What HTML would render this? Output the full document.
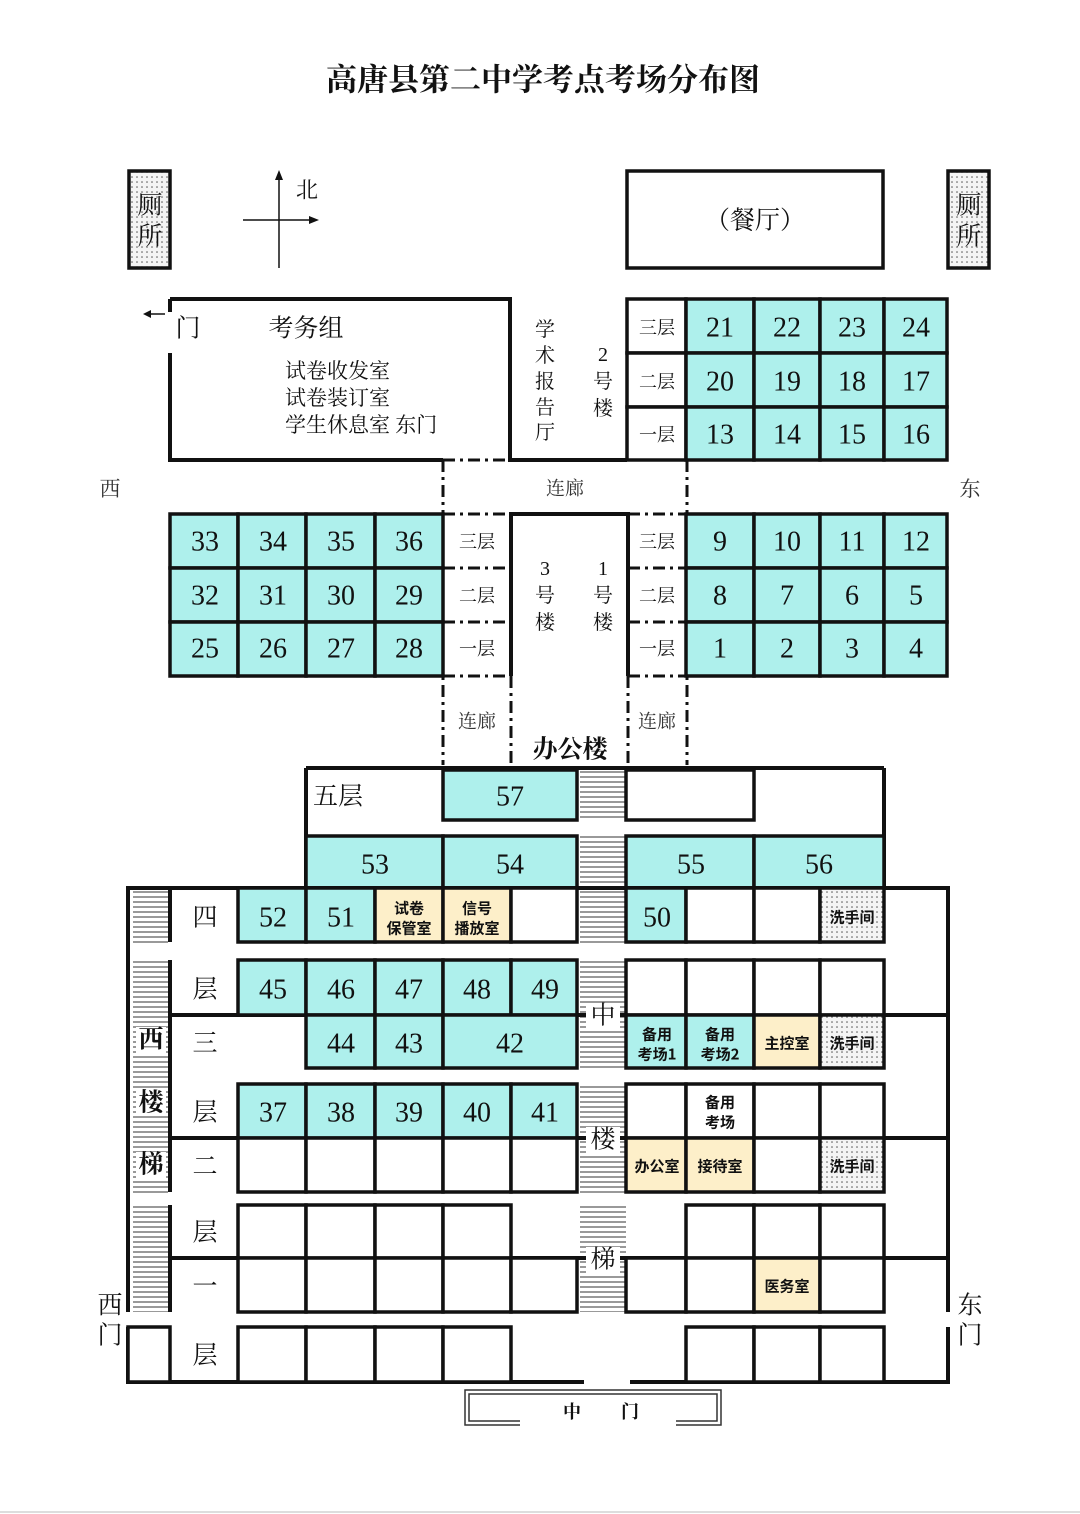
<!DOCTYPE html>
<html><head><meta charset="utf-8"><style>
html,body{margin:0;padding:0;background:#fff;}
svg{display:block;}
text{font-family:"Liberation Serif","Noto Serif CJK SC","Noto Sans CJK SC",serif;fill:#111;}
.n{font-size:28px;text-anchor:middle;dominant-baseline:central;}
.f{font-size:18px;text-anchor:middle;dominant-baseline:central;}
.s{font-size:15px;font-weight:bold;text-anchor:middle;dominant-baseline:central;font-family:"Noto Sans CJK SC",sans-serif;}
.l{font-size:25px;text-anchor:middle;dominant-baseline:central;}
.c{fill:#aef0ec;stroke:#111;stroke-width:3.5;}
.w{fill:#fff;stroke:#111;stroke-width:3.5;}
.b{fill:#fdefc9;stroke:#111;stroke-width:3.5;}
.d{fill:url(#dots);stroke:#111;stroke-width:3.5;}
.k{stroke:#111;stroke-width:4;fill:none;}
.dd{stroke:#111;stroke-width:3;fill:none;stroke-dasharray:12 5 3 5;}
</style></head><body>
<svg width="1080" height="1514" viewBox="0 0 1080 1514" xmlns="http://www.w3.org/2000/svg">
<defs>
<pattern id="dots" width="5" height="5" patternUnits="userSpaceOnUse"><rect width="5" height="5" fill="#f4f4f4"/><circle cx="2" cy="2" r="0.8" fill="#555"/></pattern>
<pattern id="hatch" width="6" height="5" patternUnits="userSpaceOnUse"><rect width="6" height="5" fill="#fff"/><line x1="0" y1="2" x2="6" y2="2" stroke="#777" stroke-width="1.5"/></pattern>
</defs>
<rect width="1080" height="1514" fill="#fff"/>
<line x1="0" y1="1512" x2="1080" y2="1512" stroke="#ddd" stroke-width="2"/>
<text x="543" y="80" style="font-size:31px;font-weight:bold;text-anchor:middle;dominant-baseline:central">高唐县第二中学考点考场分布图</text>

<!-- toilets -->
<rect x="129" y="171" width="41" height="97" class="d"/>
<text x="150" y="206" class="l">厕</text><text x="150" y="237" class="l">所</text>
<rect x="948" y="171" width="41" height="97" class="d"/>
<text x="969" y="206" class="l">厕</text><text x="969" y="237" class="l">所</text>
<!-- compass -->
<line x1="279" y1="176" x2="279" y2="268" stroke="#111" stroke-width="1.5"/>
<polygon points="279,170 275,180 283,180" fill="#111"/>
<line x1="243" y1="220" x2="312" y2="220" stroke="#111" stroke-width="1.5"/>
<polygon points="319,220 309,216 309,224" fill="#111"/>
<text x="307" y="190" class="l" style="font-size:22px">北</text>
<!-- dining -->
<rect x="627" y="171" width="256" height="97" class="w"/>
<text x="755" y="221" class="l">（餐厅）</text>

<!-- exam office block -->
<polyline points="170,353 170,460 443,460" class="k"/>
<polyline points="170,299 510,299 510,460 627,460" class="k"/>
<line x1="170" y1="299" x2="170" y2="312" class="k"/>
<line x1="147" y1="314" x2="165" y2="314" stroke="#111" stroke-width="1.5"/>
<polygon points="143,314 151,310 151,318" fill="#111"/>
<text x="188" y="329" class="l">门</text>
<text x="306" y="329" class="l">考务组</text>
<text x="285" y="371" style="font-size:21px;dominant-baseline:central">试卷收发室</text>
<text x="285" y="398" style="font-size:21px;dominant-baseline:central">试卷装订室</text>
<text x="285" y="425" style="font-size:21px;dominant-baseline:central">学生休息室 东门</text>
<text x="545" y="330" class="f" style="font-size:20px">学</text>
<text x="545" y="356" class="f" style="font-size:20px">术</text>
<text x="545" y="382" class="f" style="font-size:20px">报</text>
<text x="545" y="408" class="f" style="font-size:20px">告</text>
<text x="545" y="433" class="f" style="font-size:20px">厅</text>
<text x="603" y="355" class="f" style="font-size:20px">2</text>
<text x="603" y="382" class="f" style="font-size:20px">号</text>
<text x="603" y="409" class="f" style="font-size:20px">楼</text>

<!-- building 2 -->
<rect x="627" y="299" width="59" height="54" class="w"/><rect x="627" y="353" width="59" height="54" class="w"/><rect x="627" y="407" width="59" height="53" class="w"/>
<rect x="686" y="299" width="68" height="54" class="c"/><rect x="754" y="299" width="66" height="54" class="c"/><rect x="820" y="299" width="64" height="54" class="c"/><rect x="884" y="299" width="63" height="54" class="c"/>
<rect x="686" y="353" width="68" height="54" class="c"/><rect x="754" y="353" width="66" height="54" class="c"/><rect x="820" y="353" width="64" height="54" class="c"/><rect x="884" y="353" width="63" height="54" class="c"/>
<rect x="686" y="407" width="68" height="53" class="c"/><rect x="754" y="407" width="66" height="53" class="c"/><rect x="820" y="407" width="64" height="53" class="c"/><rect x="884" y="407" width="63" height="53" class="c"/>
<text x="657" y="328" class="f">三层</text><text x="657" y="382" class="f">二层</text><text x="657" y="435" class="f">一层</text>
<text x="720" y="328" class="n">21</text><text x="787" y="328" class="n">22</text><text x="852" y="328" class="n">23</text><text x="916" y="328" class="n">24</text>
<text x="720" y="382" class="n">20</text><text x="787" y="382" class="n">19</text><text x="852" y="382" class="n">18</text><text x="916" y="382" class="n">17</text>
<text x="720" y="435" class="n">13</text><text x="787" y="435" class="n">14</text><text x="852" y="435" class="n">15</text><text x="916" y="435" class="n">16</text>

<!-- corridors dash-dot -->
<line x1="443" y1="460" x2="443" y2="765" class="dd"/>
<line x1="687" y1="460" x2="687" y2="765" class="dd"/>
<line x1="443" y1="460" x2="510" y2="460" class="dd"/>
<line x1="627" y1="460" x2="687" y2="460" class="dd"/>
<line x1="511" y1="676" x2="511" y2="765" class="dd"/>
<line x1="628" y1="676" x2="628" y2="765" class="dd"/>
<line x1="443" y1="514" x2="511" y2="514" class="dd"/><line x1="628" y1="514" x2="687" y2="514" class="dd"/>
<line x1="443" y1="568" x2="511" y2="568" class="dd"/><line x1="628" y1="568" x2="687" y2="568" class="dd"/>
<line x1="443" y1="622" x2="511" y2="622" class="dd"/><line x1="628" y1="622" x2="687" y2="622" class="dd"/>
<line x1="443" y1="676" x2="511" y2="676" class="dd"/><line x1="628" y1="676" x2="687" y2="676" class="dd"/>
<polyline points="511,676 511,514 628,514 628,676" class="k"/>
<text x="565" y="489" class="f" style="font-size:19px;fill:#333">连廊</text>
<text x="110" y="489" class="l" style="font-size:21px;fill:#333">西</text>
<text x="970" y="489" class="l" style="font-size:21px;fill:#333">东</text>
<text x="545" y="569" class="f" style="font-size:20px">3</text><text x="545" y="596" class="f" style="font-size:20px">号</text><text x="545" y="623" class="f" style="font-size:20px">楼</text>
<text x="603" y="569" class="f" style="font-size:20px">1</text><text x="603" y="596" class="f" style="font-size:20px">号</text><text x="603" y="623" class="f" style="font-size:20px">楼</text>
<text x="477" y="542" class="f">三层</text><text x="477" y="596" class="f">二层</text><text x="477" y="649" class="f">一层</text>
<text x="657" y="542" class="f">三层</text><text x="657" y="596" class="f">二层</text><text x="657" y="649" class="f">一层</text>
<text x="477" y="722" class="f" style="font-size:19px;fill:#333">连廊</text>
<text x="657" y="722" class="f" style="font-size:19px;fill:#333">连廊</text>
<text x="570" y="750" class="l" style="font-weight:bold">办公楼</text>

<!-- building 3 left grid -->
<rect x="170" y="514" width="68" height="54" class="c"/><rect x="238" y="514" width="68" height="54" class="c"/><rect x="306" y="514" width="69" height="54" class="c"/><rect x="375" y="514" width="68" height="54" class="c"/>
<rect x="170" y="568" width="68" height="54" class="c"/><rect x="238" y="568" width="68" height="54" class="c"/><rect x="306" y="568" width="69" height="54" class="c"/><rect x="375" y="568" width="68" height="54" class="c"/>
<rect x="170" y="622" width="68" height="54" class="c"/><rect x="238" y="622" width="68" height="54" class="c"/><rect x="306" y="622" width="69" height="54" class="c"/><rect x="375" y="622" width="68" height="54" class="c"/>
<text x="205" y="542" class="n">33</text><text x="273" y="542" class="n">34</text><text x="341" y="542" class="n">35</text><text x="409" y="542" class="n">36</text>
<text x="205" y="596" class="n">32</text><text x="273" y="596" class="n">31</text><text x="341" y="596" class="n">30</text><text x="409" y="596" class="n">29</text>
<text x="205" y="649" class="n">25</text><text x="273" y="649" class="n">26</text><text x="341" y="649" class="n">27</text><text x="409" y="649" class="n">28</text>
<!-- building 1 right grid -->
<rect x="686" y="514" width="68" height="54" class="c"/><rect x="754" y="514" width="66" height="54" class="c"/><rect x="820" y="514" width="64" height="54" class="c"/><rect x="884" y="514" width="63" height="54" class="c"/>
<rect x="686" y="568" width="68" height="54" class="c"/><rect x="754" y="568" width="66" height="54" class="c"/><rect x="820" y="568" width="64" height="54" class="c"/><rect x="884" y="568" width="63" height="54" class="c"/>
<rect x="686" y="622" width="68" height="54" class="c"/><rect x="754" y="622" width="66" height="54" class="c"/><rect x="820" y="622" width="64" height="54" class="c"/><rect x="884" y="622" width="63" height="54" class="c"/>
<text x="720" y="542" class="n">9</text><text x="787" y="542" class="n">10</text><text x="852" y="542" class="n">11</text><text x="916" y="542" class="n">12</text>
<text x="720" y="596" class="n">8</text><text x="787" y="596" class="n">7</text><text x="852" y="596" class="n">6</text><text x="916" y="596" class="n">5</text>
<text x="720" y="649" class="n">1</text><text x="787" y="649" class="n">2</text><text x="852" y="649" class="n">3</text><text x="916" y="649" class="n">4</text>

<!-- office building -->
<rect x="580" y="768" width="46" height="544" fill="url(#hatch)"/>
<rect x="578" y="821" width="50" height="14" fill="#fff"/><rect x="578" y="943" width="50" height="16" fill="#fff"/><rect x="578" y="1069" width="50" height="14" fill="#fff"/><rect x="578" y="1193" width="50" height="11" fill="#fff"/>
<rect x="133" y="890" width="35" height="422" fill="url(#hatch)"/>
<rect x="131" y="943" width="40" height="16" fill="#fff"/><rect x="131" y="1193" width="40" height="11" fill="#fff"/>
<line x1="306" y1="768" x2="884" y2="768" class="k"/>
<line x1="306" y1="768" x2="306" y2="888" class="k"/>
<line x1="884" y1="768" x2="884" y2="888" class="k"/>
<text x="338" y="797" class="l">五层</text>
<rect x="443" y="770" width="134" height="50" class="c"/><text x="510" y="797" class="n">57</text>
<rect x="626" y="770" width="128" height="50" class="w"/>
<rect x="306" y="836" width="137" height="52" class="c"/><rect x="443" y="836" width="134" height="52" class="c"/>
<rect x="626" y="836" width="128" height="52" class="c"/><rect x="754" y="836" width="130" height="52" class="c"/>
<text x="375" y="865" class="n">53</text><text x="510" y="865" class="n">54</text><text x="691" y="865" class="n">55</text><text x="819" y="865" class="n">56</text>

<!-- outer walls -->
<polyline points="128,1312 128,888 948,888 948,1312" class="k"/>
<polyline points="128,1327 128,1382 584,1382" class="k"/>
<polyline points="630,1382 948,1382 948,1327" class="k"/>
<line x1="170" y1="888" x2="170" y2="942" class="k"/><line x1="170" y1="960" x2="170" y2="1192" class="k"/><line x1="170" y1="1205" x2="170" y2="1312" class="k"/>
<rect x="128" y="1327" width="42" height="55" class="w"/>
<line x1="170" y1="1015" x2="948" y2="1015" class="k"/>
<line x1="170" y1="1138" x2="948" y2="1138" class="k"/>
<line x1="170" y1="1258" x2="948" y2="1258" class="k"/>

<!-- row 4a -->
<rect x="238" y="888" width="68" height="54" class="c"/><rect x="306" y="888" width="69" height="54" class="c"/>
<rect x="375" y="888" width="68" height="54" class="b"/><rect x="443" y="888" width="68" height="54" class="b"/><rect x="511" y="888" width="66" height="54" class="w"/>
<rect x="626" y="888" width="60" height="54" class="c"/><rect x="686" y="888" width="68" height="54" class="w"/><rect x="754" y="888" width="66" height="54" class="w"/><rect x="820" y="888" width="64" height="54" class="d"/>
<text x="273" y="918" class="n">52</text><text x="341" y="918" class="n">51</text>
<text x="409" y="908" class="s">试卷</text><text x="409" y="928" class="s">保管室</text>
<text x="477" y="908" class="s">信号</text><text x="477" y="928" class="s">播放室</text>
<text x="657" y="918" class="n">50</text><text x="852" y="917" class="s">洗手间</text>
<!-- row 4b -->
<rect x="238" y="960" width="68" height="55" class="c"/><rect x="306" y="960" width="69" height="55" class="c"/><rect x="375" y="960" width="68" height="55" class="c"/><rect x="443" y="960" width="68" height="55" class="c"/><rect x="511" y="960" width="66" height="55" class="c"/>
<rect x="626" y="960" width="60" height="55" class="w"/><rect x="686" y="960" width="68" height="55" class="w"/><rect x="754" y="960" width="66" height="55" class="w"/><rect x="820" y="960" width="64" height="55" class="w"/>
<text x="273" y="990" class="n">45</text><text x="341" y="990" class="n">46</text><text x="409" y="990" class="n">47</text><text x="477" y="990" class="n">48</text><text x="545" y="990" class="n">49</text>
<!-- row 3a -->
<rect x="306" y="1015" width="69" height="53" class="c"/><rect x="375" y="1015" width="68" height="53" class="c"/><rect x="443" y="1015" width="134" height="53" class="c"/>
<rect x="626" y="1015" width="60" height="53" class="c"/><rect x="686" y="1015" width="68" height="53" class="c"/><rect x="754" y="1015" width="66" height="53" class="b"/><rect x="820" y="1015" width="64" height="53" class="d"/>
<text x="341" y="1044" class="n">44</text><text x="409" y="1044" class="n">43</text><text x="510" y="1044" class="n">42</text>
<text x="657" y="1034" class="s">备用</text><text x="657" y="1054" class="s">考场1</text>
<text x="720" y="1034" class="s">备用</text><text x="720" y="1054" class="s">考场2</text>
<text x="787" y="1043" class="s">主控室</text><text x="852" y="1043" class="s">洗手间</text>
<!-- row 3b -->
<rect x="238" y="1084" width="68" height="54" class="c"/><rect x="306" y="1084" width="69" height="54" class="c"/><rect x="375" y="1084" width="68" height="54" class="c"/><rect x="443" y="1084" width="68" height="54" class="c"/><rect x="511" y="1084" width="66" height="54" class="c"/>
<rect x="626" y="1084" width="60" height="54" class="w"/><rect x="686" y="1084" width="68" height="54" class="w"/><rect x="754" y="1084" width="66" height="54" class="w"/><rect x="820" y="1084" width="64" height="54" class="w"/>
<text x="273" y="1113" class="n">37</text><text x="341" y="1113" class="n">38</text><text x="409" y="1113" class="n">39</text><text x="477" y="1113" class="n">40</text><text x="545" y="1113" class="n">41</text>
<text x="720" y="1102" class="s">备用</text><text x="720" y="1122" class="s">考场</text>
<!-- row 2a -->
<rect x="238" y="1138" width="68" height="54" class="w"/><rect x="306" y="1138" width="69" height="54" class="w"/><rect x="375" y="1138" width="68" height="54" class="w"/><rect x="443" y="1138" width="68" height="54" class="w"/><rect x="511" y="1138" width="66" height="54" class="w"/>
<rect x="626" y="1138" width="60" height="54" class="b"/><rect x="686" y="1138" width="68" height="54" class="b"/><rect x="754" y="1138" width="66" height="54" class="w"/><rect x="820" y="1138" width="64" height="54" class="d"/>
<text x="657" y="1166" class="s">办公室</text><text x="720" y="1166" class="s">接待室</text><text x="852" y="1166" class="s">洗手间</text>
<!-- row 2b -->
<rect x="238" y="1205" width="68" height="53" class="w"/><rect x="306" y="1205" width="69" height="53" class="w"/><rect x="375" y="1205" width="68" height="53" class="w"/><rect x="443" y="1205" width="68" height="53" class="w"/>
<rect x="686" y="1205" width="68" height="53" class="w"/><rect x="754" y="1205" width="66" height="53" class="w"/><rect x="820" y="1205" width="64" height="53" class="w"/>
<!-- row 1a -->
<rect x="238" y="1258" width="68" height="54" class="w"/><rect x="306" y="1258" width="69" height="54" class="w"/><rect x="375" y="1258" width="68" height="54" class="w"/><rect x="443" y="1258" width="68" height="54" class="w"/><rect x="511" y="1258" width="66" height="54" class="w"/>
<rect x="626" y="1258" width="60" height="54" class="w"/><rect x="686" y="1258" width="68" height="54" class="w"/><rect x="754" y="1258" width="66" height="54" class="b"/><rect x="820" y="1258" width="64" height="54" class="w"/>
<text x="787" y="1286" class="s">医务室</text>
<!-- row 1b -->
<rect x="238" y="1327" width="68" height="55" class="w"/><rect x="306" y="1327" width="69" height="55" class="w"/><rect x="375" y="1327" width="68" height="55" class="w"/><rect x="443" y="1327" width="68" height="55" class="w"/>
<rect x="686" y="1327" width="68" height="55" class="w"/><rect x="754" y="1327" width="66" height="55" class="w"/><rect x="820" y="1327" width="64" height="55" class="w"/>
<line x1="511" y1="1382" x2="584" y2="1382" class="k"/>

<!-- floor labels -->
<text x="205" y="918" class="l">四</text><text x="205" y="990" class="l">层</text>
<text x="205" y="1044" class="l">三</text><text x="205" y="1113" class="l">层</text>
<text x="205" y="1167" class="l">二</text><text x="205" y="1233" class="l">层</text>
<text x="205" y="1287" class="l">一</text><text x="205" y="1356" class="l">层</text>
<rect x="136" y="1027" width="30" height="26" fill="#fff"/><rect x="136" y="1090" width="30" height="26" fill="#fff"/><rect x="136" y="1152" width="30" height="26" fill="#fff"/>
<text x="151" y="1040" class="l" style="font-weight:bold">西</text><text x="151" y="1103" class="l" style="font-weight:bold">楼</text><text x="151" y="1165" class="l" style="font-weight:bold">梯</text>
<rect x="586" y="1003" width="34" height="26" fill="#fff"/><rect x="586" y="1127" width="34" height="26" fill="#fff"/><rect x="586" y="1247" width="34" height="26" fill="#fff"/>
<text x="603" y="1016" class="l">中</text><text x="603" y="1140" class="l">楼</text><text x="603" y="1260" class="l">梯</text>
<text x="110" y="1306" class="l">西</text><text x="110" y="1336" class="l">门</text>
<text x="970" y="1306" class="l">东</text><text x="970" y="1336" class="l">门</text>

<!-- main gate -->
<polyline points="520,1425 465,1425 465,1390 721,1390 721,1425 676,1425" fill="none" stroke="#333" stroke-width="1.5"/>
<polyline points="520,1421 469,1421 469,1394 717,1394 717,1421 676,1421" fill="none" stroke="#333" stroke-width="1.5"/>
<text x="572" y="1412" class="f" style="font-weight:bold">中</text><text x="630" y="1412" class="f" style="font-weight:bold">门</text>
</svg>
</body></html>
